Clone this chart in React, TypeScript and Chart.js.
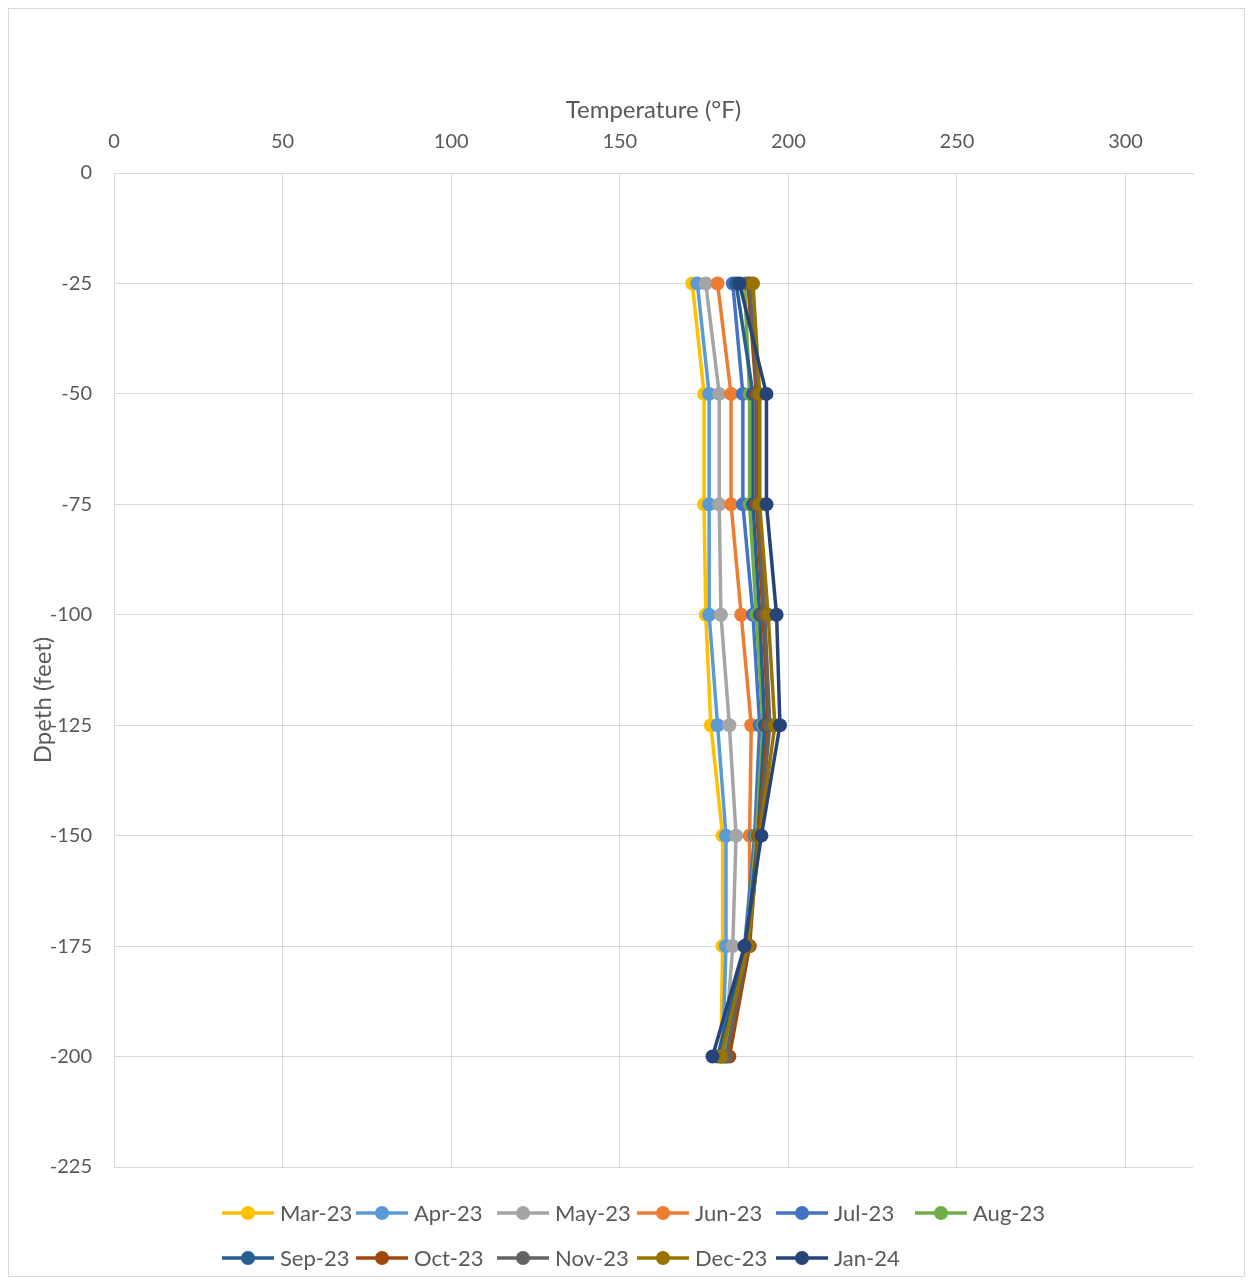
import React, { useEffect, useRef } from "react";
import { Chart, registerables } from "chart.js";

Chart.register(...registerables);

const depths = [-25, -50, -75, -100, -125, -150, -175, -200];
const seriesNames = ["Mar-23", "Apr-23", "May-23", "Jun-23", "Jul-23", "Aug-23", "Sep-23", "Oct-23", "Nov-23", "Dec-23", "Jan-24"];
const seriesColors = ["#FFC000", "#5B9BD5", "#A5A5A5", "#ED7D31", "#4472C4", "#70AD47", "#255E91", "#9E480E", "#636363", "#997300", "#264478"];

const mar23 = [171.5, 175, 175, 175.5, 177, 180.5, 180.5, 180];
const apr23 = [173, 176.5, 176.5, 176.5, 179, 181.5, 181.5, 180.5];
const may23 = [175.5, 179.5, 179.5, 180, 182.5, 184.5, 183.5, 181];
const jun23 = [179, 183, 183, 186, 189, 188.5, 188.5, 181.5];
const jul23 = [183.5, 186.5, 186.5, 189.5, 191.5, 190, 187, 180];
const aug23 = [187, 188.5, 188.5, 190.5, 192.5, 190.5, 187.5, 180.5];
const sep23 = [184.5, 189.5, 189.5, 191.5, 193, 191, 187.5, 179];
const oct23 = [188, 190.5, 190.5, 192.5, 194, 191, 188.5, 182.5];
const nov23 = [188.5, 191, 191, 193, 194.5, 191.5, 188, 181.5];
const dec23 = [189.5, 191.5, 191.5, 194, 196, 191.5, 188, 180];
const jan24 = [185.5, 193.5, 193.5, 196.5, 197.5, 192, 187, 177.5];

const seriesValues = [mar23, apr23, may23, jun23, jul23, aug23, sep23, oct23, nov23, dec23, jan24];

const xTitle = "Temperature (°F)";
const yTitle = "Dpeth (feet)";

const FONT = "Lato, 'Open Sans', sans-serif";
const TEXT = "#595959";
const GRID = "#d9d9d9";

const W = 1237;
const H = 1269;

const legendPlugin = {
  id: "customLegend",
  afterDraw(chart: any) {
    const ctx = chart.ctx;
    ctx.save();
    // outer border
    ctx.strokeStyle = "#d9d9d9";
    ctx.lineWidth = 1;
    ctx.strokeRect(0.5, 0.5, chart.width - 1, chart.height - 1);

    // y axis title
    ctx.save();
    ctx.translate(35, 692);
    ctx.rotate(-Math.PI / 2);
    ctx.font = `24px ${FONT}`;
    ctx.fillStyle = TEXT;
    ctx.textAlign = "center";
    ctx.textBaseline = "middle";
    ctx.fillText(yTitle, 0, 0);
    ctx.restore();

    ctx.font = `22px ${FONT}`;
    ctx.textBaseline = "middle";
    ctx.textAlign = "left";
    const lineLen = 52;
    const gap = 6;
    const perRow = 6;
    const colStarts = [214, 348, 489, 629, 768, 907];
    const rowsY = [1205, 1250];
    const ds = chart.data.datasets;
    ds.forEach((d: any, i: number) => {
      const row = Math.floor(i / perRow);
      const col = i % perRow;
      const x = colStarts[col];
      const y = rowsY[row];
      ctx.strokeStyle = d.borderColor;
      ctx.lineWidth = 3.5;
      ctx.beginPath();
      ctx.moveTo(x, y);
      ctx.lineTo(x + lineLen, y);
      ctx.stroke();
      ctx.fillStyle = d.backgroundColor;
      ctx.beginPath();
      ctx.arc(x + lineLen / 2, y, 7, 0, Math.PI * 2);
      ctx.fill();
      ctx.fillStyle = TEXT;
      ctx.fillText(d.label, x + lineLen + gap, y + 1);
    });
    ctx.restore();
  },
};

export default function App() {
  const ref = useRef<HTMLCanvasElement>(null);
  useEffect(() => {
    if (!ref.current) return;
    const n = seriesNames.length;
    const datasets = seriesNames.map((name, i) => ({
      label: name,
      data: depths.map((d, j) => ({ x: seriesValues[i][j], y: d })),
      borderColor: seriesColors[i],
      backgroundColor: seriesColors[i],
      pointBackgroundColor: seriesColors[i],
      pointBorderColor: seriesColors[i],
      pointRadius: 7,
      pointBorderWidth: 0,
      borderWidth: 3.5,
      showLine: true,
      fill: false,
      tension: 0,
      order: n - i,
    }));
    const chart = new Chart(ref.current, {
      type: "scatter",
      data: { datasets },
      plugins: [legendPlugin],
      options: {
        animation: false,
        responsive: false,
        maintainAspectRatio: false,
        layout: { padding: { top: 86, right: 52, bottom: 110, left: 15 } },
        plugins: {
          legend: { display: false },
          tooltip: { enabled: false },
        },
        scales: {
          x: {
            type: "linear",
            position: "top",
            min: 0,
            max: 320,
            afterBuildTicks: (s: any) => {
              s.ticks = [0, 50, 100, 150, 200, 250, 300].map((v) => ({ value: v }));
            },
            afterFit: (s: any) => {
              s.height = 165 - 86;
            },
            grid: { color: GRID, lineWidth: 1, drawTicks: false },
            border: { color: GRID },
            ticks: { color: TEXT, font: { family: FONT, size: 20 }, padding: 19 },
            title: {
              display: true,
              text: xTitle,
              color: TEXT,
              font: { family: FONT, size: 24 },
              padding: { top: 2, bottom: 2 },
            },
          },
          y: {
            type: "linear",
            min: -225,
            max: 0,
            afterBuildTicks: (s: any) => {
              const t = [];
              for (let v = -225; v <= 0; v += 25) t.push({ value: v });
              s.ticks = t;
            },
            afterFit: (s: any) => {
              s.width = 106 - 15;
            },
            grid: { color: GRID, lineWidth: 1, drawTicks: false },
            border: { color: GRID },
            ticks: { color: TEXT, font: { family: FONT, size: 20 }, padding: 22 },
            title: { display: false },
          },
        },
      },
    } as any);
    return () => chart.destroy();
  }, []);
  return (
    <div style={{ width: W, height: H }}>
      <canvas ref={ref} width={W} height={H} style={{ display: "block", width: W, height: H }} />
    </div>
  );
}
